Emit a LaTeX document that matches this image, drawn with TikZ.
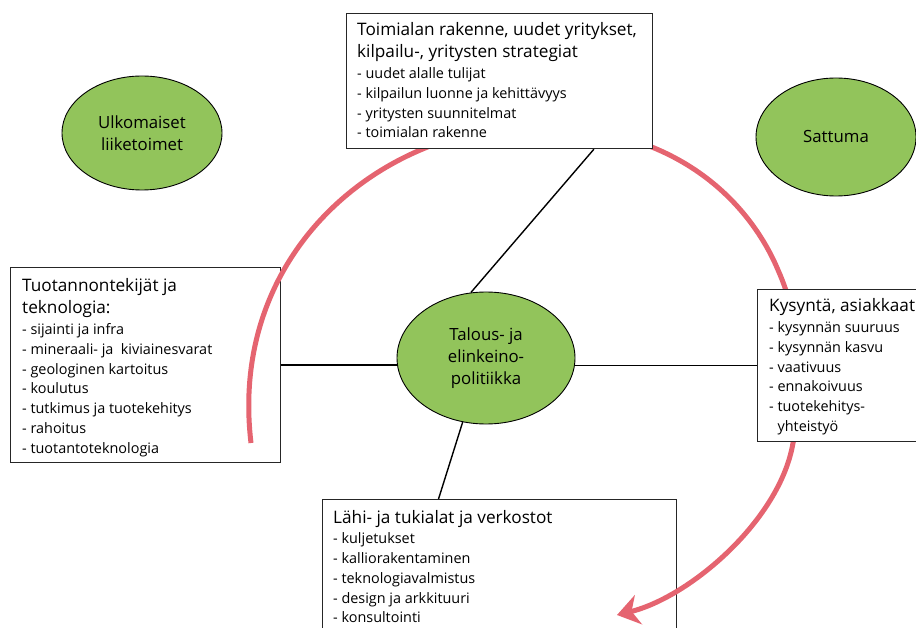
\documentclass[tikz,border=0pt]{standalone}
\usepackage{fontspec}
\setmainfont{Open Sans}
\usetikzlibrary{arrows.meta,calc,shapes.geometric}
\definecolor{leafgreen}{RGB}{146,196,91}
\definecolor{arcred}{RGB}{229,100,112}

% heading and bullet list of an information box
\newcommand{\boxtext}[3]{%
  \parbox[t]{#1}{\raggedright
    {\fontsize{17.2}{22}\selectfont #2\par}\vspace{1.2pt}%
    {\fontsize{14.4}{19.7}\selectfont #3\par}}}

\begin{document}
\begin{tikzpicture}[x=1pt,y=-1pt,
  factor/.style={ellipse, draw=black, line width=0.9pt, fill=leafgreen,
    inner sep=0pt, align=center, font=\fontsize{16.8}{21.8}\selectfont},
  infobox/.style={draw=black!85, line width=1.2pt, fill=white,
    inner sep=0pt, anchor=north west},
  boxlabel/.style={anchor=base west, inner sep=0pt},
  link/.style={line width=1.4pt},
  flow/.style={arcred, line width=5pt, line join=round,
    -{Stealth[length=22pt,width=30pt,inset=7pt]}}]

\useasboundingbox (0,0) rectangle (916,628);
\clip (0,0) rectangle (916,628);

% green ellipses
\node[factor, minimum width=160pt, minimum height=114pt] (abroad) at (142,133)
  {Ulkomaiset\\liiketoimet};
\node[factor, minimum width=160pt, minimum height=118pt] (chance) at (836,137)
  {Sattuma};
\node[factor, minimum width=178pt, minimum height=132pt] (policy) at (486,358)
  {Talous- ja\\elinkeino-\\politiikka};

% boxes that sit below the red arc
\node[infobox, minimum width=270pt, minimum height=195pt] (factors) at (10,267) {};
\node[boxlabel] (factorstext) at (22,292) {\boxtext{260pt}
  {Tuotannontekijät ja\\teknologia:}
  {- sijainti ja infra\\- mineraali- ja\ \ kiviainesvarat\\- geologinen kartoitus\\
   - koulutus\\- tutkimus ja tuotekehitys\\- rahoitus\\- tuotantoteknologia}};

\node[infobox, minimum width=354pt, minimum height=150pt] (related) at (322,499) {};
\node[boxlabel] (relatedtext) at (333,523) {\boxtext{330pt}
  {Lähi- ja tukialat ja verkostot}
  {- kuljetukset\\- kalliorakentaminen\\- teknologiavalmistus\\
   - design ja arkkituuri\\- konsultointi}};

% links to the central ellipse
\draw[link] (factors.east) -- (factors.east -| policy.west);
\draw[link] (policy.250.2) -- ($(related.north west)!0.328!(related.north east)$);

% the red arc, winding round the central ellipse
\draw[flow] (251,443) .. controls (228,250) and (385,124) .. (540,126)
  .. controls (690,128) and (755,215) .. (778,270)
  .. controls (800.5,320) and (808,393) .. (793,443)
  .. controls (780,520) and (690,597) .. (617,615);

% boxes that cover the red arc
\node[infobox, minimum width=306pt, minimum height=135pt] (industry) at (346,13) {};
\draw[link] (policy.103.8) -- ($(industry.south west)!0.807!(industry.south east)$);
\node[infobox, minimum width=306pt, minimum height=135pt] at (346,13) {};
\node[boxlabel] (industrytext) at (357,36) {\boxtext{292pt}
  {Toimialan rakenne, uudet yritykset,\\kilpailu-, yritysten strategiat}
  {- uudet alalle tulijat\\- kilpailun luonne ja kehittävyys\\
   - yritysten suunnitelmat\\- toimialan rakenne}};

\node[infobox, minimum width=170pt, minimum height=152pt] (demand) at (757,289) {};
\draw[link] (policy.east |- demand.west) -- (demand.west);
\node[infobox, minimum width=170pt, minimum height=152pt] at (757,289) {};
\node[boxlabel] (demandtext) at (769,312) {\boxtext{150pt}
  {Kysyntä, asiakkaat}
  {- kysynnän suuruus\\- kysynnän kasvu\\- vaativuus\\- ennakoivuus\\
   - tuotekehitys-\\\hphantom{- }yhteistyö}};
\end{tikzpicture}
\end{document}
